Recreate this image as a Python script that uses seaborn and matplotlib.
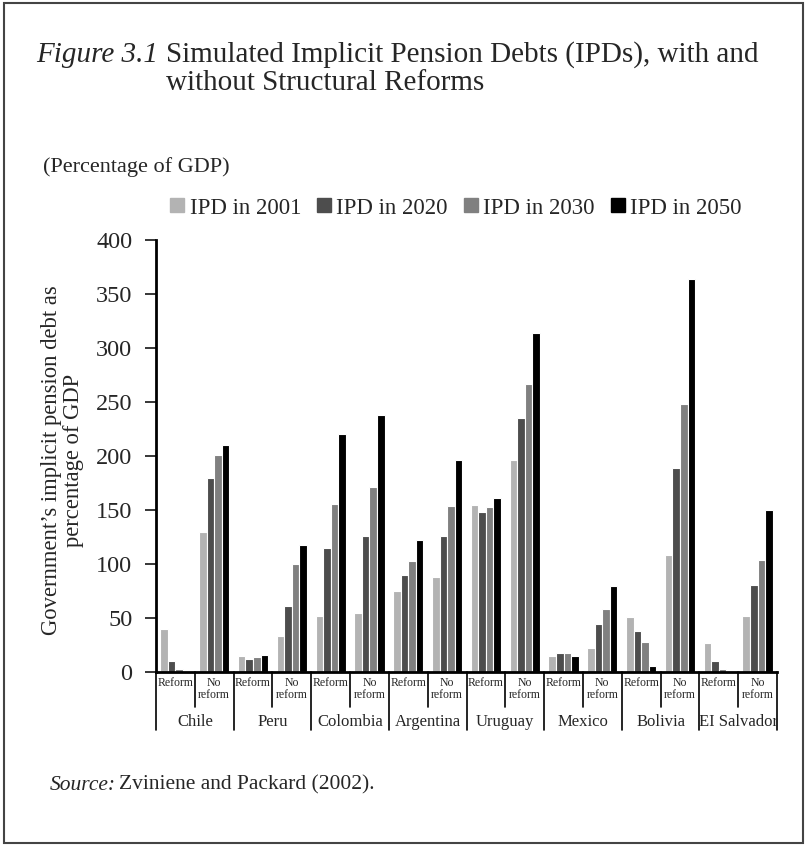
import pandas as pd
import matplotlib.pyplot as plt
import seaborn as sns
from matplotlib.patches import Rectangle
from matplotlib.lines import Line2D

countries = ["Chile", "Peru", "Colombia", "Argentina", "Uruguay", "Mexico", "Bolivia", "EI Salvador"]
scenarios = ["Reform", "No\nreform"]
years = ["IPD in 2001", "IPD in 2020", "IPD in 2030", "IPD in 2050"]
colors = ["#b3b3b3", "#4d4d4d", "#808080", "#000000"]

# order: Chile reform, Chile no reform, Peru reform, ...
ipd_2001 = [40, 130, 15, 33, 52, 55, 75, 88, 155, 196, 15, 22, 51, 108, 27, 52]
ipd_2020 = [10, 180, 12, 61, 115, 126, 90, 126, 148, 235, 18, 44, 38, 189, 10, 81]
ipd_2030 = [3, 201, 14, 100, 156, 171, 103, 154, 153, 267, 18, 58, 28, 248, 3, 104]
ipd_2050 = [0, 210, 16, 118, 220, 238, 122, 196, 161, 314, 15, 80, 6, 364, 0, 150]
yticks = [0, 50, 100, 150, 200, 250, 300, 350, 400]

groups = [f"{c} {s}" for c in countries for s in scenarios]
df = pd.DataFrame({"group": groups, years[0]: ipd_2001, years[1]: ipd_2020,
                   years[2]: ipd_2030, years[3]: ipd_2050})
long = df.melt(id_vars="group", var_name="year", value_name="value")

sns.set_style("white")
plt.rcParams["font.family"] = ["Liberation Serif", "DejaVu Serif"]

W, H = 806, 846
fig = plt.figure(figsize=(W / 100, H / 100), dpi=100)
ax = fig.add_axes([156 / W, 1 - 672 / H, (777 - 156) / W, (672 - 240) / H])

sns.barplot(data=long, x="group", y="value", hue="year", order=groups,
            hue_order=years, palette=colors, width=0.78, saturation=1,
            edgecolor="white", linewidth=0.8, legend=False, ax=ax)

ax.set_xlim(-0.5, len(groups) - 0.5)
ax.set_ylim(0, 400)
ax.set_yticks(yticks)
ax.set_yticklabels([str(t) for t in yticks], fontsize=17.5)
ax.set_xticks([])
ax.set_xlabel("")
ax.set_ylabel("")
for s in ["top", "right"]:
    ax.spines[s].set_visible(False)
for s in ["left", "bottom"]:
    ax.spines[s].set_linewidth(2)
    ax.spines[s].set_color("black")
ax.tick_params(axis="y", direction="out", length=8, width=1.3, pad=9, left=True)

# category table under the axis
xt = ax.get_xaxis_transform()
for i, g in enumerate(groups):
    ax.text(i, -0.012, scenarios[i % 2], transform=xt,
            ha="center", va="top", fontsize=8.5, linespacing=0.95)
    bottom = -0.135 if i % 2 == 0 else -0.082
    ax.add_line(Line2D([i - 0.5, i - 0.5], [0, bottom], color="black", lw=1.2,
                       transform=xt, clip_on=False))
ax.add_line(Line2D([len(groups) - 0.5] * 2, [0, -0.135], color="black", lw=1.2,
                   transform=xt, clip_on=False))
for k, c in enumerate(countries):
    ax.text(2 * k + 0.5, -0.116, c, transform=xt,
            ha="center", va="center", fontsize=12)

ax.text(-0.15, 0.49, "Government\u2019s implicit pension debt as\npercentage of GDP",
        transform=ax.transAxes, rotation=90, ha="center", va="center",
        fontsize=16.3, linespacing=1.05)

# legend
handles = [Line2D([], [], marker="s", ls="", color=c, markersize=10) for c in colors]
fig.legend(handles, years, loc="center", bbox_to_anchor=(456 / W, 1 - 208 / H),
           ncol=4, frameon=False, fontsize=16.5, handlelength=0.6,
           handletextpad=0.25, columnspacing=0.7)

# title and notes
fig.text(36 / W, 1 - 62 / H, "Figure 3.1", style="italic", fontsize=21, va="baseline")
fig.text(166 / W, 1 - 62 / H, "Simulated Implicit Pension Debts (IPDs), with and",
         fontsize=21, va="baseline")
fig.text(166 / W, 1 - 90 / H, "without Structural Reforms", fontsize=21, va="baseline")
fig.text(43 / W, 1 - 172 / H, "(Percentage of GDP)", fontsize=16, va="baseline")

src = fig.text(50 / W, 1 - 785 / H, "Source:", style="italic", fontsize=15.5, va="center")
fig.canvas.draw()
bb = src.get_window_extent(fig.canvas.get_renderer())
fig.text(bb.x1 / W + 3 / W, 1 - 785 / H, "Zviniene and Packard (2002).",
         fontsize=15.5, va="center")

fig.add_artist(Rectangle((3.5 / W, 3.5 / H), 1 - 7 / W, 1 - 7 / H, fill=False,
                         edgecolor="#444444", lw=1.5, transform=fig.transFigure))

fig.savefig("out.png", dpi=100)
